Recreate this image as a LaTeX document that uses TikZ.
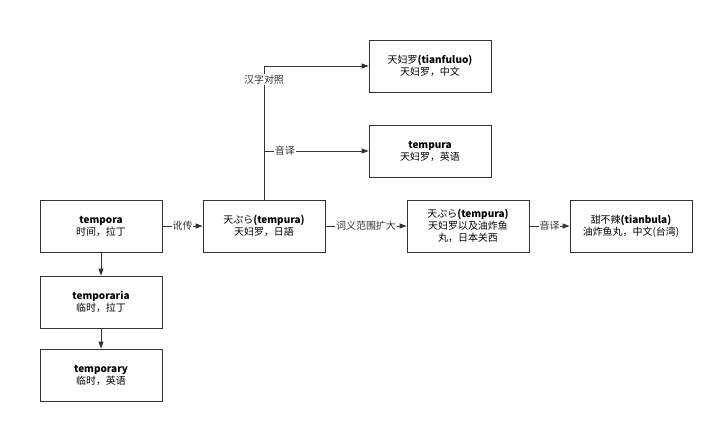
\documentclass[tikz,border=0pt]{standalone}
\usepackage{fontspec}
\setmainfont{Noto Sans CJK SC}
\usetikzlibrary{arrows.meta}
\tikzset{
  word/.style={draw=black!80, thick, minimum width=122bp, minimum height=52bp, align=center, font=\fontsize{10}{12}\selectfont},
  link/.style={thick, draw=black!80, -{Triangle[length=7pt,width=5pt]}},
  tag/.style={fill=white, inner sep=1pt, font=\fontsize{10}{11}\selectfont, text=black!80}
}
\begin{document}
\begin{tikzpicture}[x=1bp, y=-1bp]
\useasboundingbox (0,0) rectangle (720,429);
% Latin line
\node[word] (tempora) at (101,226) {\textbf{tempora}\\时间，拉丁};
\node[word] (temporaria) at (101,302) {\textbf{temporaria}\\临时，拉丁};
\node[word] (temporary) at (101,375) {\textbf{temporary}\\临时，英语};

% Japanese and after
\node[word] (tenpura) at (264,226) {天ぷら\textbf{(tempura)}\\天妇罗，日語};
\node[word] (tianfuluo) at (430,66) {天妇罗\textbf{(tianfuluo)}\\天妇罗，中文};
\node[word] (tempura) at (430,151) {\textbf{tempura}\\天妇罗，英语};
\node[word] (wide) at (468,226) {天ぷら\textbf{(tempura)}\\天妇罗以及油炸鱼\\丸，日本关西};
\node[word] (tianbula) at (631,226) {甜不辣\textbf{(tianbula)}\\油炸鱼丸，中文(台湾)};

\coordinate (split) at (264,151);

\draw[link] (tempora) -- (temporaria);
\draw[link] (temporaria) -- (temporary);
\draw[link] (tempora) -- node[tag] {讹传} (tenpura);
\draw[link] (tenpura) -- node[tag] {词义范围扩大} (wide);
\draw[link] (wide) -- node[tag] {音译} (tianbula);
\draw[link] (tenpura.north) |- node[tag, pos=0.45] {汉字对照} (tianfuluo.west);
\draw[link] (split) -- node[tag, pos=0.2] {音译} (tempura.west);
\end{tikzpicture}
\end{document}
